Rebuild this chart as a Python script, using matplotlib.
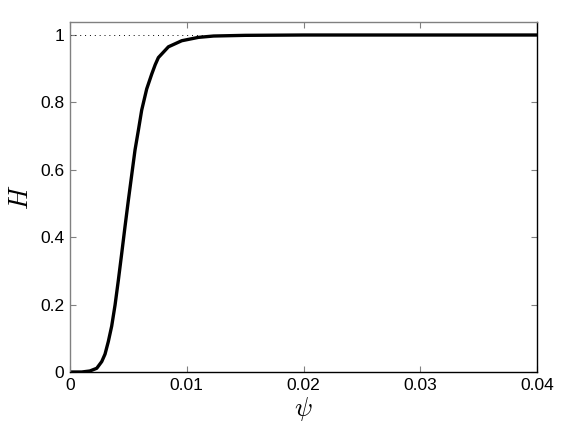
import numpy as np
import matplotlib
matplotlib.use("Agg")
import matplotlib.pyplot as plt

# values
psi = [0.0, 0.0010, 0.0017, 0.00229, 0.00272, 0.0030, 0.00328, 0.00357, 0.00386,
       0.00414, 0.00443, 0.00471, 0.0050, 0.00534, 0.00557, 0.00586, 0.00614,
       0.00657, 0.0070, 0.0073, 0.00757, 0.00843, 0.00957, 0.0110, 0.0123,
       0.0150, 0.0200, 0.0300, 0.0400]
H = [0.0, 0.0, 0.003, 0.011, 0.031, 0.053, 0.090, 0.136, 0.199,
     0.272, 0.352, 0.431, 0.510, 0.599, 0.659, 0.718, 0.777,
     0.840, 0.884, 0.912, 0.933, 0.965, 0.983, 0.993, 0.997,
     0.999, 1.0, 1.0, 1.0]
xticks = [0, 0.01, 0.02, 0.03, 0.04]
yticks = [0, 0.2, 0.4, 0.6, 0.8, 1.0]

plt.rcParams['font.family'] = ['Liberation Sans', 'DejaVu Sans']
plt.rcParams['mathtext.fontset'] = 'cm'

fig = plt.figure(figsize=(5.82, 4.38), dpi=100)
ax = fig.add_axes([70 / 582, 1 - 372 / 438, 467 / 582, 350 / 438])

ax.plot([0, 0.04], [1, 1], color='black', linestyle=(0, (1, 4)), linewidth=0.7)
ax.plot(psi, H, color='black', linewidth=2.4, solid_joinstyle='round')

ax.set_xlim(0, 0.04)
ax.set_ylim(0, 1.0386)
ax.set_xticks(xticks)
ax.set_xticklabels(['0', '0.01', '0.02', '0.03', '0.04'])
ax.set_yticks(yticks)
ax.set_yticklabels(['0', '0.2', '0.4', '0.6', '0.8', '1'])
ax.tick_params(direction='in', length=4, width=0.8, labelsize=12.5, colors='#808080',
               labelcolor='black', top=True, right=True, pad=4)
ax.spines['left'].set_color('#808080')
ax.spines['top'].set_color('#808080')
ax.spines['bottom'].set_color('black')
ax.spines['right'].set_color('black')
for s in ax.spines.values():
    s.set_linewidth(1.0)

ax.set_xlabel(r'$\psi$', fontsize=19, labelpad=2)
ax.set_ylabel(r'$H$', fontsize=19, labelpad=5)

fig.savefig('out.png', dpi=100)
